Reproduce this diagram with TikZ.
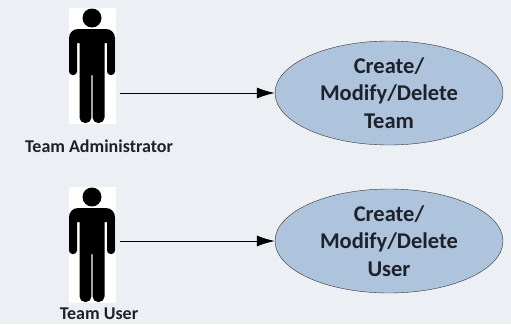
\documentclass[tikz,border=0pt]{standalone}
\usepackage{fontspec}
\setmainfont{Carlito}
\usetikzlibrary{arrows.meta,shapes.geometric}
\definecolor{pagebg}{HTML}{ECF0F5}
\definecolor{casefill}{HTML}{AEC3DC}
\definecolor{labeltext}{HTML}{1E2228}
\tikzset{
  actorbox/.style={fill=white,minimum width=47pt,minimum height=116pt,inner sep=0pt},
  usecase/.style={draw=black!80,fill=casefill,ellipse,minimum width=228pt,minimum height=104pt,inner sep=0pt,
    align=center,text=labeltext,font=\fontsize{22.5}{27.5}\selectfont\bfseries},
  actorlabel/.style={text=labeltext,inner sep=0pt,font=\fontsize{18}{20}\selectfont\bfseries},
  assoc/.style={draw=black,line width=1pt,shorten <=4pt,-{Latex[length=18pt,width=11pt]}},
  man/.pic={
    \fill (0,-48) circle (9.5);
    \fill (-23,-25) [rounded corners=9pt] -- (-23,-37) -- (23,-37) [rounded corners=3.5pt] -- (23,9) -- (15,9)
      [sharp corners] -- (15,-23) -- (12.5,-23) [rounded corners=5.5pt] -- (12.5,57) -- (0.6,57)
      [sharp corners] -- (0.6,9) -- (-0.6,9) [rounded corners=5.5pt] -- (-0.6,57) -- (-12.5,57)
      [sharp corners] -- (-12.5,-23) -- (-15,-23) [rounded corners=3.5pt] -- (-15,9) -- (-23,9) -- cycle;
  }
}
\begin{document}
\begin{tikzpicture}[x=1pt,y=-1pt]
  \fill[pagebg] (0,0) rectangle (511,324);
  \useasboundingbox (0,0) rectangle (511,324);

  \node[actorbox] (admin) at (92,66) {};
  \node[actorbox] (user) at (92,245) {};
  \pic at (admin.center) {man};
  \pic at (user.center) {man};

  \node[actorlabel] (adminlabel) at (99,146) {Team Administrator};
  \node[actorlabel] (userlabel) at (99,314) {Team User};

  \node[usecase] (teamcase) at (389,93) {Create/\\Modify/Delete\\Team};
  \node[usecase] (usercase) at (389,241) {Create/\\Modify/Delete\\User};

  \draw[assoc] (admin.east |- teamcase.west) -- (teamcase.west);
  \draw[assoc] (user.east |- usercase.west) -- (usercase.west);
\end{tikzpicture}
\end{document}
